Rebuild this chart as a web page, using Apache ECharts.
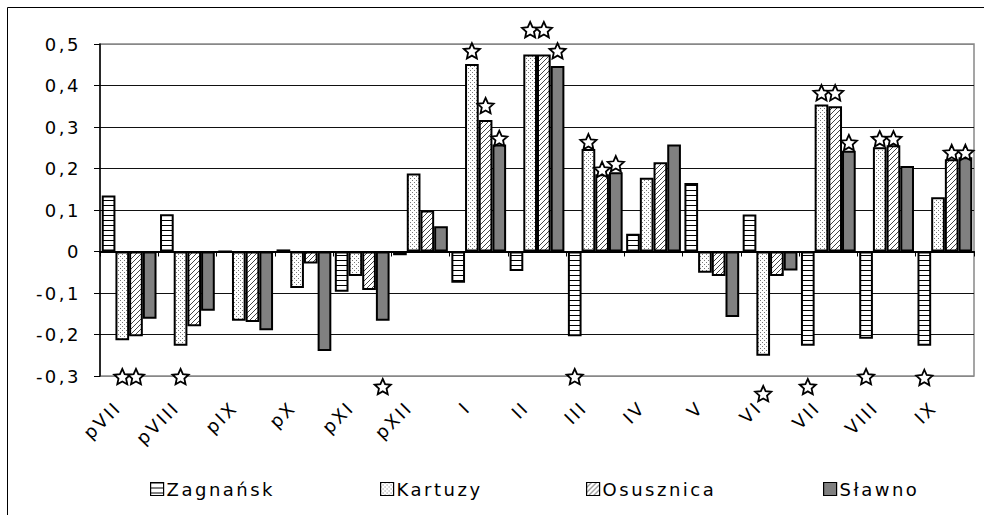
<!DOCTYPE html>
<html>
<head>
<meta charset="utf-8">
<script src="https://cdn.jsdelivr.net/npm/echarts@6/dist/echarts.min.js"></script>
<style>
html,body{margin:0;padding:0;background:#fff;}
#chart{width:984px;height:515px;}
#chart text{letter-spacing:2.5px;}
</style>
</head>
<body>
<div id="chart"></div>
<script>
var categories = ['pVII','pVIII','pIX','pX','pXI','pXII','I','II','III','IV','V','VI','VII','VIII','IX'];
var seriesNames = ['Zagnańsk','Kartuzy','Osusznica','Sławno'];
var zagnansk  = [0.135, 0.090, 0.000, 0.005, -0.097, -0.009, -0.075, -0.047, -0.204, 0.043, 0.165, 0.089, -0.227, -0.210, -0.227];
var kartuzy   = [-0.214, -0.227, -0.167, -0.088, -0.059, 0.188, 0.452, 0.475, 0.247, 0.178, -0.051, -0.251, 0.354, 0.251, 0.131];
var osusznica = [-0.204, -0.180, -0.170, -0.029, -0.093, 0.099, 0.317, 0.475, 0.186, 0.215, -0.059, -0.059, 0.350, 0.256, 0.222];
var slawno    = [-0.162, -0.143, -0.190, -0.240, -0.167, 0.061, 0.258, 0.447, 0.191, 0.258, -0.158, -0.046, 0.243, 0.206, 0.227];
var yTicks = [-0.3, -0.2, -0.1, 0, 0.1, 0.2, 0.3, 0.4, 0.5];
// significance stars: category index, series index, level
var starCategory = [0, 0, 1, 4, 6, 6, 6, 7, 7, 7, 8, 8, 8, 8, 11, 12, 12, 12, 12, 13, 13, 13, 14, 14, 14];
var starSeries   = [1, 2, 1, 3, 1, 2, 3, 1, 2, 3, 0, 1, 2, 3, 1, 0, 1, 2, 3, 0, 1, 2, 0, 2, 3];
var starLevel    = [-0.301, -0.301, -0.301, -0.325, 0.484, 0.352, 0.273, 0.535, 0.535, 0.484, -0.301, 0.265, 0.198, 0.212, -0.342, -0.325, 0.383, 0.383, 0.263, -0.301, 0.272, 0.272, -0.303, 0.239, 0.239];

var CAT_GAP = 0.06;

function makePattern(w, h, draw) {
  var c = document.createElement('canvas');
  c.width = w; c.height = h;
  var ctx = c.getContext('2d');
  ctx.fillStyle = '#fff'; ctx.fillRect(0, 0, w, h);
  draw(ctx);
  return {image: c.toDataURL(), imageWidth: w, imageHeight: h, repeat: 'repeat'};
}
var patStripes = makePattern(6, 5, function (ctx) { ctx.fillStyle = '#000'; ctx.fillRect(0, 0, 6, 1); });
var patDots = makePattern(4, 4, function (ctx) { ctx.fillStyle = '#777'; ctx.fillRect(0, 0, 1, 1); ctx.fillRect(2, 2, 1, 1); });
var patHatch = makePattern(5, 5, function (ctx) { ctx.fillStyle = '#444'; for (var i = 0; i < 5; i++) ctx.fillRect(i, 4 - i, 1, 1); });
var fills = [patStripes, patDots, patHatch, '#808080'];
var values = [zagnansk, kartuzy, osusznica, slawno];

var starData = starCategory.map(function (c, i) { return [c, starSeries[i], starLevel[i]]; });

function starPoints(cx, cy, R, r) {
  var pts = [];
  for (var k = 0; k < 10; k++) {
    var a = -Math.PI / 2 + k * Math.PI / 5;
    var rad = k % 2 === 0 ? R : r;
    pts.push([cx + rad * Math.cos(a), cy + rad * Math.sin(a)]);
  }
  return pts;
}

var chart = echarts.init(document.getElementById('chart'), null, {renderer: 'svg'});
var font = "'DejaVu Sans', 'Liberation Sans', Arial, sans-serif";

var series = seriesNames.map(function (n, i) {
  return {
    name: n, type: 'bar', xAxisIndex: 0, yAxisIndex: 0,
    barGap: '0%', barCategoryGap: (CAT_GAP * 100) + '%',
    data: values[i],
    itemStyle: {color: fills[i], borderColor: '#000', borderWidth: 2},
    emphasis: {disabled: true},
    z: 3
  };
});
series.push({
  type: 'custom', xAxisIndex: 0, yAxisIndex: 0, clip: false, z: 10,
  data: starData,
  encode: {x: 0, y: 2},
  renderItem: function (params, api) {
    var cat = api.value(0), si = api.value(1), lvl = api.value(2);
    var p = api.coord([cat, lvl]);
    var band = api.size([1, 0])[0];
    var groupW = band * (1 - CAT_GAP);
    var bw = groupW / 4;
    var x = p[0] - groupW / 2 + (si + 0.5) * bw;
    return {
      type: 'polygon',
      shape: {points: starPoints(x, p[1] + 1, 8.5, 4)},
      style: {fill: '#fff', stroke: '#000', lineWidth: 1.8, lineJoin: 'miter'}
    };
  }
});

var legendLeft = [145, 375, 581, 818];
var legends = seriesNames.map(function (n, i) {
  return {
    data: [n], left: legendLeft[i], top: 475, orient: 'horizontal',
    icon: 'rect', itemWidth: 13, itemHeight: 13, itemGap: 0,
    itemStyle: {borderColor: '#000', borderWidth: 1.2},
    textStyle: {fontFamily: font, fontSize: 18, color: '#000', padding: [0, 0, 0, -2]},
    selectedMode: false
  };
});

chart.setOption({
  animation: false,
  backgroundColor: '#fff',
  textStyle: {fontFamily: font, fontSize: 18},
  graphic: [{
    type: 'rect', shape: {x: 7.5, y: 7.5, width: 1200, height: 700},
    style: {fill: 'none', stroke: '#000', lineWidth: 1}, silent: true, z: 100
  }],
  grid: {left: 100, right: 10, top: 44, bottom: 139, show: true, borderColor: '#888', borderWidth: 1.5, containLabel: false},
  legend: legends,
  xAxis: [{
    type: 'category', data: categories, position: 'bottom',
    axisLine: {onZero: true, lineStyle: {color: '#000', width: 2}},
    axisTick: {show: true, length: 5, lineStyle: {color: '#000', width: 1}},
    axisLabel: {show: false}, splitLine: {show: false}, z: 5
  }, {
    type: 'category', data: categories, position: 'bottom',
    axisLine: {show: false, onZero: false}, axisTick: {show: false},
    axisLabel: {show: true, interval: 0, rotate: 45, margin: 17, padding: [0, 16, 0, 0],
      fontSize: 18, color: '#000', fontFamily: font}
  }],
  yAxis: [{
    type: 'value', min: yTicks[0], max: yTicks[yTicks.length - 1], interval: 0.1,
    axisLine: {show: true, lineStyle: {color: '#000', width: 1.5}},
    axisTick: {show: true, length: 6, lineStyle: {color: '#000'}},
    splitLine: {show: true, lineStyle: {color: ['#888', '#111', '#111', '#111', '#111', '#111', '#111', '#111', '#888'], width: 1}},
    axisLabel: {fontSize: 18, color: '#000', margin: 19, fontFamily: font,
      formatter: function (v) { if (Math.abs(v) < 1e-9) return '0'; return v.toFixed(1).replace('.', ','); }}
  }],
  series: series
});
</script>
</body>
</html>
